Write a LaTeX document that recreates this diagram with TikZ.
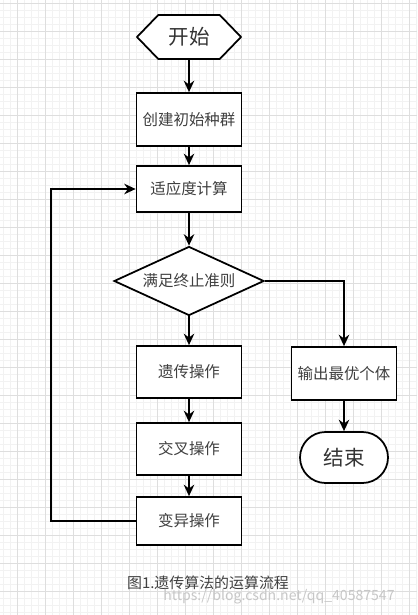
\documentclass[tikz,border=0pt]{standalone}
\usepackage{fontspec}
\setmainfont{Noto Sans CJK SC}
\usetikzlibrary{shapes.geometric,shapes.symbols,shapes.misc,arrows.meta}

\begin{document}
\begin{tikzpicture}[x=0.02cm,y=-0.02cm,
  box/.style={draw,line width=1pt,minimum width=2.1cm,inner sep=0pt,text=black!75,font=\fontsize{8.8}{10}\selectfont},
  terminal/.style={draw,line width=1pt,inner sep=0pt,text=black!80,font=\fontsize{11.7}{13}\selectfont},
  arr/.style={line width=1pt,-{Stealth[length=6.5pt,width=6pt]}}]
\useasboundingbox (0,0) rectangle (417,615);
% background grid
\fill [white] (0,0) rectangle (417,615);
\foreach \gx in {3,10,...,417} \draw [black!5,line width=0.4pt] (\gx,0) -- (\gx,615);
\foreach \gy in {3,10,...,615} \draw [black!5,line width=0.4pt] (0,\gy) -- (417,\gy);
\foreach \gx in {17,45,...,417} \draw [black!13,line width=0.5pt] (\gx,0) -- (\gx,615);
\foreach \gy in {3,31,...,615} \draw [black!13,line width=0.5pt] (0,\gy) -- (417,\gy);
% nodes
\node [terminal,signal,signal to=east and west,signal pointer angle=92,minimum width=2.08cm,minimum height=0.88cm,fill=white] (start) at (189,37) {开始};
\node [box,minimum height=1.06cm,fill=white] (init) at (189,119.5) {创建初始种群};
\node [box,minimum height=0.92cm,fill=white] (fit) at (189,189) {适应度计算};
\node [box,diamond,aspect=2.17,minimum width=3cm,minimum height=1.38cm,fill=white] (judge) at (189,281) {满足终止准则};
\node [box,minimum height=1.04cm,fill=white] (gen) at (189,372) {遗传操作};
\node [box,minimum height=1.04cm,fill=white] (cross) at (189,449) {交叉操作};
\node [box,minimum height=0.96cm,fill=white] (mut) at (189,521) {变异操作};
\node [box,minimum height=1.06cm,fill=white] (out) at (344,373.5) {输出最优个体};
\node [terminal,rounded rectangle,minimum width=1.76cm,minimum height=1.02cm,fill=white] (finish) at (344,457.5) {结束};
\coordinate (back) at (51,521);
% connectors
\draw [arr] (start) -- (init);
\draw [arr] (init) -- (fit);
\draw [arr] (fit) -- (judge);
\draw [arr] (judge) -- (gen);
\draw [arr] (gen) -- (cross);
\draw [arr] (cross) -- (mut);
\draw [arr] (judge.east) -| (out.north);
\draw [arr] (out) -- (finish);
\draw [arr] (mut.west) -- (back) |- (fit.west);
% caption
\node [text=black!75,font=\fontsize{8.5}{10}\selectfont] (caption) at (208,583) {图1.遗传算法的运算流程};
\node [text=black!22,font=\fontsize{8}{9}\selectfont,anchor=west,inner sep=0pt] (mark) at (163,597) {https://blog.csdn.net/qq\_40587547};
\end{tikzpicture}
\end{document}
